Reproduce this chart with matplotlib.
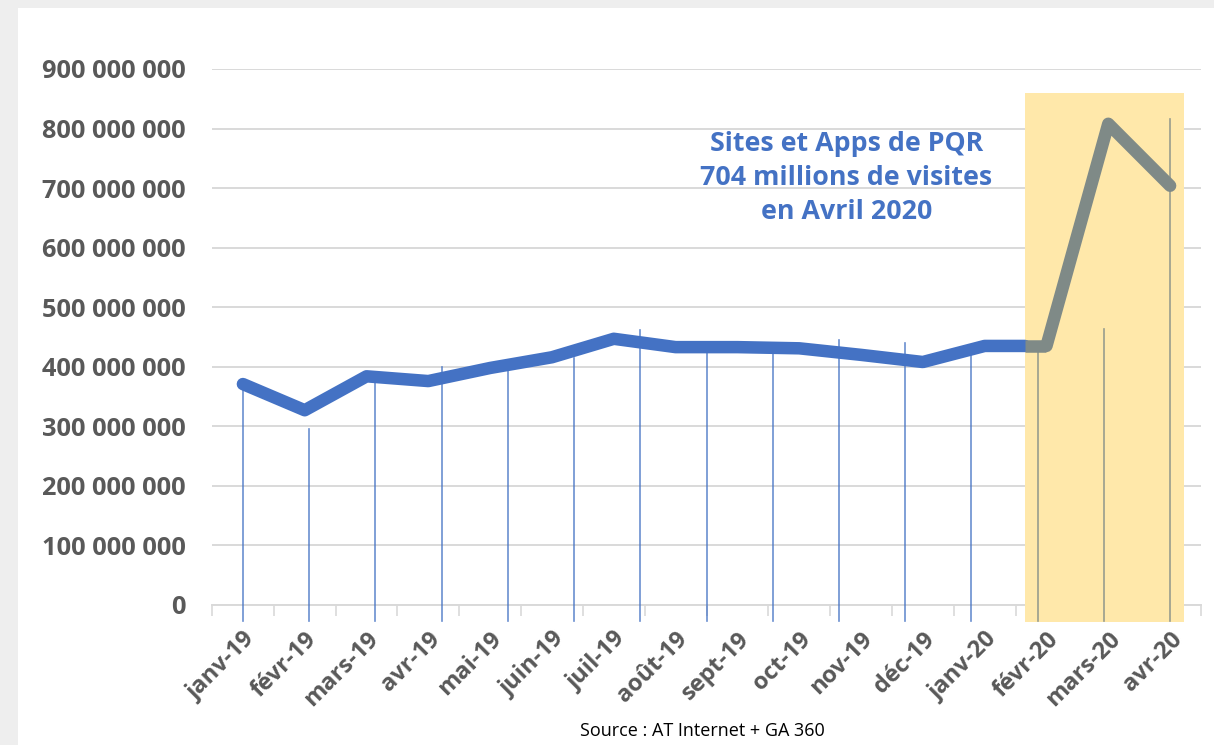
import numpy as np
import matplotlib
matplotlib.use("Agg")
import matplotlib.pyplot as plt
from matplotlib.patches import Rectangle
from matplotlib.ticker import FuncFormatter, MultipleLocator

# ── Data ──────────────────────────────────────────────────────────────────────
months = ["janv-19", "févr-19", "mars-19", "avr-19", "mai-19", "juin-19",
          "juil-19", "août-19", "sept-19", "oct-19", "nov-19", "déc-19",
          "janv-20", "févr-20", "mars-20", "avr-20"]
visits = [371e6, 327e6, 384e6, 376e6, 398e6, 416e6, 447e6, 433e6,
          433e6, 431e6, 420e6, 408e6, 435e6, 435e6, 808e6, 704e6]
# thin drop lines (second series drawn on its own spacing)
drop_tops = [372e6, 296e6, 380e6, 400e6, 402e6, 415e6, 462e6, 430e6,
             430e6, 445e6, 440e6, 420e6, 430e6, 463e6, 816e6]
drop_bottom = -27e6
highlight = (12.65, 15.22, -28e6, 860e6)   # x0, x1, y0, y1 of covid box

BLUE = "#4472C4"
GRAY_LINE = "#7F8A87"
YELLOW = "#FFE8AA"
GRID = "#D9D9D9"
TXT = "#595959"
FONT = "Open Sans"

plt.rcParams["font.family"] = [FONT, "DejaVu Sans"]

fig = plt.figure(figsize=(12.14, 7.45), dpi=100, facecolor="#EEEEEE")
fig.patches.append(Rectangle((18/1214, 0), 1, 1 - 8/745, transform=fig.transFigure,
                             facecolor="white", edgecolor="none", zorder=-10))
ax = fig.add_axes([212/1214, 1 - 605/745, (1201-212)/1214, (605-69)/745])
ax.set_zorder(1)
ax.set_facecolor("none")

x = np.arange(len(months))
ax.set_xlim(-0.5, len(months) - 0.5)
ax.set_ylim(0, 900e6)

# highlight box
x0, x1, y0, y1 = highlight
box = Rectangle((x0, y0), x1 - x0, y1 - y0, facecolor=YELLOW,
                edgecolor="none", zorder=1, clip_on=False)
ax.add_patch(box)

# grid
ax.yaxis.set_major_locator(MultipleLocator(100e6))
ax.grid(axis="y", color=GRID, lw=1.4, zorder=0.5)
ax.set_axisbelow(True)

# drop lines
dx = np.linspace(0, 15, len(drop_tops))
for xx, top in zip(dx, drop_tops):
    c = GRAY_LINE if xx > x0 else BLUE
    ax.plot([xx, xx], [drop_bottom, top], color=c, lw=1.2, alpha=0.8,
            zorder=2, clip_on=False)

# main line: blue up to the box edge, grey inside it
y_edge = np.interp(x0, x, visits)
ax.plot(list(x[:13]) + [x0], visits[:13] + [y_edge], color=BLUE, lw=9,
        zorder=3, solid_capstyle="round", solid_joinstyle="round")
ax.plot([x0, x[13]], [y_edge, visits[13]], color=GRAY_LINE, lw=9, zorder=4,
        solid_capstyle="butt")
ax.plot(x[13:], visits[13:], color=GRAY_LINE, lw=9, zorder=4,
        solid_capstyle="round", solid_joinstyle="round")

# axes styling
for s in ["top", "right", "left"]:
    ax.spines[s].set_visible(False)
ax.spines["bottom"].set_color(GRID)
ax.spines["bottom"].set_linewidth(1.4)
ax.spines["bottom"].set_zorder(0.6)

ax.yaxis.set_major_formatter(FuncFormatter(
    lambda v, p: f"{int(round(v)):,}".replace(",", " ")))
ax.tick_params(axis="y", length=0, pad=19, labelsize=18.3, labelcolor=TXT)
for t in ax.get_yticklabels():
    t.set_fontweight("bold")

ax.set_xticks(x)
ax.set_xticklabels(months, rotation=45, ha="right", rotation_mode="anchor",
                   fontsize=17, fontweight="bold", color=TXT)
ax.tick_params(axis="x", which="major", length=0, pad=16)
ax.set_xticks(np.arange(-0.5, len(months)), minor=True)
ax.tick_params(axis="x", which="minor", length=8, width=1.2, color=GRID,
               direction="out")

ax.text(9.76, 717e6, "Sites et Apps de PQR\n704 millions de visites\nen Avril 2020",
        ha="center", va="center", fontsize=19.3, fontweight="bold", color=BLUE,
        linespacing=1.4, zorder=5)

fig.text(702/1214, 1 - 731/745, "Source : AT Internet + GA 360",
         ha="center", va="center", fontsize=13, color="black")

fig.savefig("out.png", dpi=100, facecolor=fig.get_facecolor())
